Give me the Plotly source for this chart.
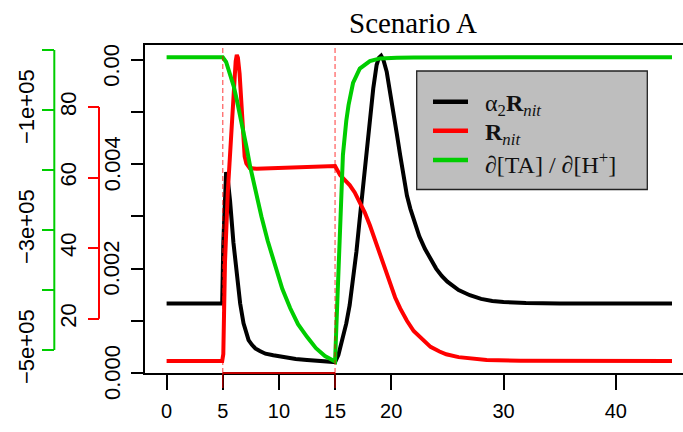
import plotly.graph_objects as go

# ---------------- data ----------------
black_t = [0, 4.95, 5.05, 5.3, 5.45, 5.65, 5.95, 6.25, 6.55, 6.85, 7.1, 7.3, 7.6, 7.9, 8.3, 8.8,
           9.5, 10.5, 11.5, 12.5, 13.5, 14.5, 15.0, 15.3, 15.7, 16.0, 16.3, 16.6, 16.9, 17.2,
           17.5, 17.8, 18.1, 18.4, 18.7, 18.9, 19.1, 19.3, 19.6, 19.9, 20.2, 20.5, 20.8, 21.1,
           21.4, 21.7, 22.0, 22.5, 23.0, 23.5, 24.0, 24.5, 25.0, 26, 27, 28, 29, 30, 32, 35, 45]
black_v = [0.00133, 0.00133, 0.00250, 0.00385, 0.00370, 0.00330, 0.00250, 0.00184, 0.00133,
           0.00095, 0.00075, 0.00063, 0.00054, 0.00047, 0.00042, 0.00037, 0.00034, 0.00030,
           0.00027, 0.00025, 0.00023, 0.00022, 0.00021, 0.00035, 0.00066, 0.00095, 0.00130,
           0.00178, 0.00232, 0.00296, 0.00360, 0.00425, 0.00487, 0.00545, 0.00590, 0.00604,
           0.00608, 0.00600, 0.00577, 0.00540, 0.00500, 0.00458, 0.00417, 0.00378, 0.00340,
           0.00315, 0.00293, 0.00262, 0.00238, 0.00218, 0.00200, 0.00186, 0.00175, 0.00159,
           0.00149, 0.00142, 0.00138, 0.00136, 0.00134, 0.00133, 0.00133]

red_t = [0, 4.95, 5.05, 5.2, 5.45, 5.65, 5.8, 6.0, 6.15, 6.25, 6.35, 6.5, 6.65, 6.8, 6.95, 7.1,
         7.4, 8, 10, 12, 15, 15.45, 15.9, 16.3, 16.75, 17.2, 17.65, 18.1, 18.55, 19.0, 19.45,
         19.9, 20.35, 20.8, 21.4, 22.0, 22.6, 23.5, 24.3, 24.9, 26, 27, 28.5, 31.5, 45]
red_v = [8.0, 8.0, 10, 36, 56, 66, 78, 88, 93, 94.8, 94, 89.5, 80, 71, 66, 64, 62.7, 62.5,
         62.8, 63.0, 63.3, 60.7, 59.4, 57.9, 55.8, 53.2, 50.1, 46.5, 42.4, 38, 33.6, 29.5,
         26.0, 22.9, 19.4, 16.5, 14.6, 12.0, 10.7, 9.9, 9.1, 8.7, 8.3, 8.1, 8.0]

green_t = [0, 5.0, 5.3, 5.65, 6.0, 6.25, 6.55, 6.85, 7.15, 7.45, 7.9, 8.45, 9.0, 9.65, 10.3,
           11.0, 11.7, 12.5, 13.3, 14.1, 15.0, 15.2, 15.45, 15.7, 16.0, 16.2, 16.6, 17.2, 18.1,
           19.0, 20.5, 22, 45]
green_v = [-12200, -12200, -20000, -38800, -62000, -83000, -108000, -135000, -165000, -195000,
           -235000, -278000, -318000, -360000, -398000, -430000, -457000, -478000, -497000,
           -510000, -519000, -420000, -290000, -175000, -118000, -92000, -55000, -31000,
           -18500, -14000, -12800, -12300, -12200]

series_names = ["α<sub>2</sub><b>R</b><sub><i>nit</i></sub>",
                "<b>R</b><sub><i>nit</i></sub>",
                "∂[TA] / ∂[H<sup>+</sup>]"]
series_colors = ["#000000", "#FF0000", "#00CD00"]

x_ticks = [0, 5, 10, 15, 20, 30, 40]
black_ticks = [0, 0.002, 0.004, 0.006]
black_labels = ["0.000", "0.002", "0.004", "0.00"]
black_minor_step = 0.001
red_ticks = [20, 40, 60, 80]
red_labels = ["20", "40", "60", "80"]
green_ticks = [-100000, -300000, -500000]
green_labels = ["−1e+05", "−3e+05", "−5e+05"]
green_minor_step = 100000
green_line_span = [0, -500000]
event_times = [5, 15]
title_text = "Scenario A"

# ---------------- layout helpers (pixels -> paper) ----------------
W, H = 683, 432
ML, MR, MT, MB = 0, 0, 45, 59
PH = H - MT - MB


def px(xp):
    return (xp - ML) / (W - ML - MR)


def py(yp):
    return (H - MB - yp) / PH


fig = go.Figure()
fig.add_trace(go.Scatter(x=black_t, y=black_v, mode="lines", yaxis="y",
                         line=dict(color=series_colors[0], width=4), showlegend=False))
fig.add_trace(go.Scatter(x=red_t, y=red_v, mode="lines", yaxis="y2",
                         line=dict(color=series_colors[1], width=4), showlegend=False))
fig.add_trace(go.Scatter(x=green_t, y=green_v, mode="lines", yaxis="y3",
                         line=dict(color=series_colors[2], width=4), showlegend=False))

tickfont_y = dict(family="Liberation Sans, Arial, sans-serif", size=22, color="black")

shapes = []
for t in event_times:
    shapes.append(dict(type="line", xref="x", yref="paper", x0=t, x1=t, y0=0, y1=1,
                       line=dict(color="rgba(255,0,0,0.6)", width=1.3, dash="5px,3px")))
    shapes.append(dict(type="line", xref="x", yref="paper", x0=t, x1=t, y0=0, y1=-15 / PH,
                       line=dict(color="rgba(255,0,0,0.7)", width=1.3)))
shapes.append(dict(type="line", xref="x", yref="paper", x0=event_times[0], x1=event_times[1],
                   y0=0, y1=0, line=dict(color="#C00000", width=2)))
shapes.append(dict(type="line", xref="paper", yref="y2", x0=px(99), x1=px(99),
                   y0=red_ticks[0], y1=red_ticks[-1], line=dict(color="#FF0000", width=2)))
shapes.append(dict(type="line", xref="paper", yref="y3", x0=px(54.3), x1=px(54.3),
                   y0=green_line_span[0], y1=green_line_span[1],
                   line=dict(color="#00CD00", width=2)))
shapes.append(dict(type="rect", xref="paper", yref="paper", x0=px(416.7), x1=px(647.3),
                   y0=py(189.5), y1=py(71), fillcolor="#BEBEBE",
                   line=dict(color="#222222", width=1.3), layer="above"))
legend_rows = [101.7, 130.7, 160]
legend_sizes = [24, 24, 24]
annotations = []
for i, yy in enumerate(legend_rows):
    shapes.append(dict(type="line", xref="paper", yref="paper", x0=px(433), x1=px(468),
                       y0=py(yy), y1=py(yy), line=dict(color=series_colors[i], width=4.5),
                       layer="above"))
    annotations.append(dict(text=series_names[i], xref="paper", yref="paper", x=px(483),
                            y=py(yy + 3), xanchor="left", yanchor="middle", showarrow=False,
                            font=dict(family="Liberation Serif, serif", size=legend_sizes[i],
                                      color="#111111")))
annotations.append(dict(text=title_text, xref="paper", yref="paper", x=px(412.5), y=py(22.5),
                        xanchor="center", yanchor="middle", showarrow=False,
                        font=dict(family="Liberation Serif, serif", size=29, color="black")))
# black axis tick labels (rotated, placed on the black axis scale)
for val, lab in zip(black_ticks, black_labels):
    annotations.append(dict(text=lab, xref="paper", yref="y", x=px(112), y=val,
                            xanchor="center", yanchor="middle", textangle=-90, showarrow=False,
                            yshift=-6 if lab == "0.00" else 0, font=tickfont_y))

fig.update_layout(
    width=W, height=H,
    margin=dict(l=ML, r=MR, t=MT, b=MB, pad=0),
    paper_bgcolor="white", plot_bgcolor="white",
    showlegend=False,
    xaxis=dict(domain=[px(145), 1], range=[-1.923, 45.98], tickmode="array", tickvals=x_ticks,
               ticktext=[str(v) for v in x_ticks], ticks="outside", ticklen=15, tickwidth=2,
               tickcolor="black", showline=True, linecolor="black", linewidth=2, mirror=True,
               showgrid=False, zeroline=False, automargin=False, ticklabelstandoff=4,
               tickfont=dict(family="Liberation Sans, Arial, sans-serif", size=20, color="black")),
    yaxis=dict(range=[0, 0.006284], tickmode="array", tickvals=black_ticks,
               showticklabels=False,
               ticks="outside", ticklen=12, tickwidth=2, tickcolor="black", showline=True,
               minor=dict(dtick=black_minor_step, tick0=0, ticks="outside", ticklen=12,
                          tickwidth=2, tickcolor="black", showgrid=False),
               linecolor="black", linewidth=2, showgrid=False, zeroline=False,
               automargin=False),
    yaxis2=dict(range=[4.6, 97.6], overlaying="y", anchor="free", position=px(99), side="left",
                tickmode="array", tickvals=red_ticks, ticktext=red_labels, ticks="outside",
                ticklen=11, tickwidth=2, tickcolor="#FF0000", showline=False, showgrid=False,
                zeroline=False, tickangle=-90, automargin=False, ticklabelstandoff=3,
                tickfont=tickfont_y),
    yaxis3=dict(range=[-538333, 8333], overlaying="y", anchor="free", position=px(54.3),
                side="left", tickmode="array", tickvals=green_ticks, ticktext=green_labels,
                ticks="outside", ticklen=12, tickwidth=2, tickcolor="#00CD00", showline=False,
                minor=dict(dtick=green_minor_step, tick0=0, ticks="outside", ticklen=12,
                           tickwidth=2, tickcolor="#00CD00", showgrid=False),
                showgrid=False, zeroline=False, tickangle=-90, automargin=False,
                tickfont=tickfont_y),
    shapes=shapes,
    annotations=annotations,
)

fig.write_html("out.html", config={"displayModeBar": False},
               post_script="document.body.style.margin='0px';")
